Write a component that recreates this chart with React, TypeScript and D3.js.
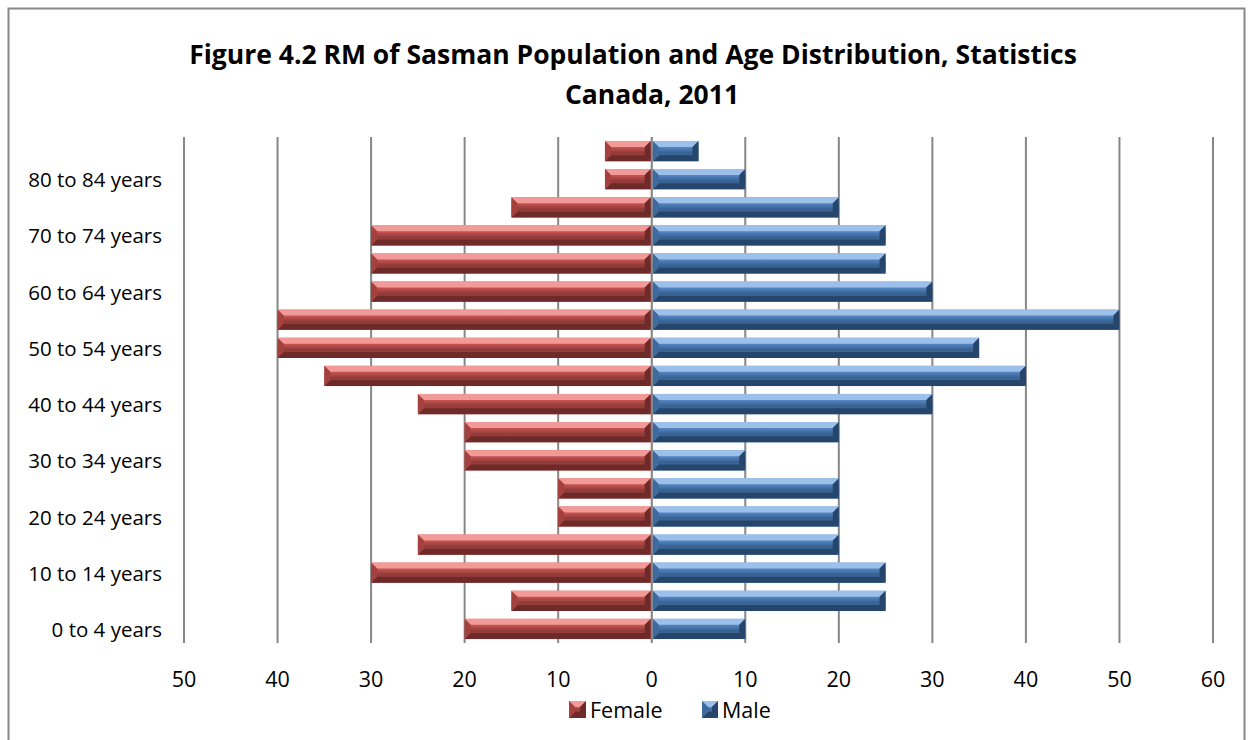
import React from "react";
import * as d3 from "d3";

const categories = [
  "0 to 4 years", "5 to 9 years", "10 to 14 years", "15 to 19 years",
  "20 to 24 years", "25 to 29 years", "30 to 34 years", "35 to 39 years",
  "40 to 44 years", "45 to 49 years", "50 to 54 years", "55 to 59 years",
  "60 to 64 years", "65 to 69 years", "70 to 74 years", "75 to 79 years",
  "80 to 84 years", "85 years and over",
];
const female = [20, 15, 30, 25, 10, 10, 20, 20, 25, 35, 40, 40, 30, 30, 30, 15, 5, 5];
const male = [10, 25, 25, 20, 20, 20, 10, 20, 30, 40, 35, 50, 30, 25, 25, 20, 10, 5];
const xTicks = [-50, -40, -30, -20, -10, 0, 10, 20, 30, 40, 50, 60];
const titleLines = [
  "Figure 4.2 RM of Sasman Population and Age Distribution, Statistics",
  "Canada, 2011",
];

const W = 1253, H = 740;
const FONT = "'Open Sans', 'Noto Sans', sans-serif";

const palettes = {
  red: { light: "#F29A97", top: "#E0716E", mid: "#C0504D", low: "#8E3A38", dark: "#6E2A28", end: "#A4413F" },
  blue: { light: "#9DC0EA", top: "#7AA3D6", mid: "#4F81BD", low: "#37608F", dark: "#25456B", end: "#3E6A9E" },
};

function BevelBar({ x0, x1, y0, y1, p, id }: any) {
  const w = x1 - x0, h = y1 - y0;
  const b = Math.min(6, w / 2, h / 2);
  const pts = (a: number[][]) => a.map((q) => q.join(",")).join(" ");
  return (
    <g>
      <rect x={x0} y={y0} width={w} height={h} fill={`url(#${id})`} />
      <polygon points={pts([[x0, y0], [x1, y0], [x1 - b, y0 + b], [x0 + b, y0 + b]])} fill={p.light} />
      <polygon points={pts([[x0, y1], [x1, y1], [x1 - b, y1 - b], [x0 + b, y1 - b]])} fill={p.dark} />
      <polygon points={pts([[x0, y0], [x0 + b, y0 + b], [x0 + b, y1 - b], [x0, y1]])} fill={p.end} />
      <polygon points={pts([[x1, y0], [x1 - b, y0 + b], [x1 - b, y1 - b], [x1, y1]])} fill={p.dark} />
    </g>
  );
}

export default function App() {
  const x = d3.scaleLinear().domain([-50, 60]).range([184, 1213]);
  const y = d3.scaleBand<string>().domain([...categories].reverse()).range([137, 643]).paddingInner(0.28).paddingOuter(0.14);
  const bh = y.bandwidth();
  const titleX = [633, 652];

  return (
    <svg width={W} height={H} style={{ position: "absolute", left: 0, top: 0, background: "#fff" }} fontFamily={FONT}>
      <defs>
        {(["red", "blue"] as const).map((k) => (
          <linearGradient key={k} id={`g-${k}`} x1="0" y1="0" x2="0" y2="1">
            <stop offset="0" stopColor={palettes[k].top} />
            <stop offset="0.35" stopColor={palettes[k].mid} />
            <stop offset="0.6" stopColor={palettes[k].low} />
            <stop offset="1" stopColor={palettes[k].mid} />
          </linearGradient>
        ))}
      </defs>
      <rect x={8.5} y={8.5} width={1236} height={780} fill="#fff" stroke="#878787" strokeWidth={2} />
      {titleLines.map((t, i) => (
        <text key={i} x={titleX[i]} y={64 + i * 40} textAnchor="middle" fontSize={26.5} fontWeight="bold" fill="#000">{t}</text>
      ))}
      {xTicks.map((t) => (
        <line key={t} x1={x(t)} x2={x(t)} y1={137} y2={643} stroke="#878787" strokeWidth={2} />
      ))}
      {categories.map((c, i) => {
        const y0 = y(c)!;
        return (
          <g key={c}>
            <BevelBar x0={x(-female[i])} x1={x(0) - 1} y0={y0} y1={y0 + bh} p={palettes.red} id="g-red" />
            <BevelBar x0={x(0) + 1} x1={x(male[i])} y0={y0} y1={y0 + bh} p={palettes.blue} id="g-blue" />
          </g>
        );
      })}
      <line x1={x(0)} x2={x(0)} y1={137} y2={643} stroke="#878787" strokeWidth={1.5} />
      {categories.map((c, i) =>
        i % 2 === 0 ? (
          <text key={c} x={162} y={y(c)! + bh / 2} textAnchor="end" dominantBaseline="central" fontSize={20.5} fill="#000">{c}</text>
        ) : null
      )}
      {xTicks.map((t) => (
        <text key={t} x={x(t)} y={678} textAnchor="middle" dominantBaseline="central" fontSize={21.5} fill="#000">{Math.abs(t)}</text>
      ))}
      <g>
        <BevelBar x0={569} x1={586} y0={701} y1={718} p={palettes.red} id="g-red" />
        <text x={590} y={709} dominantBaseline="central" fontSize={21.5} fill="#000">Female</text>
        <BevelBar x0={702} x1={718} y0={701} y1={718} p={palettes.blue} id="g-blue" />
        <text x={722} y={709} dominantBaseline="central" fontSize={21.5} fill="#000">Male</text>
      </g>
    </svg>
  );
}
